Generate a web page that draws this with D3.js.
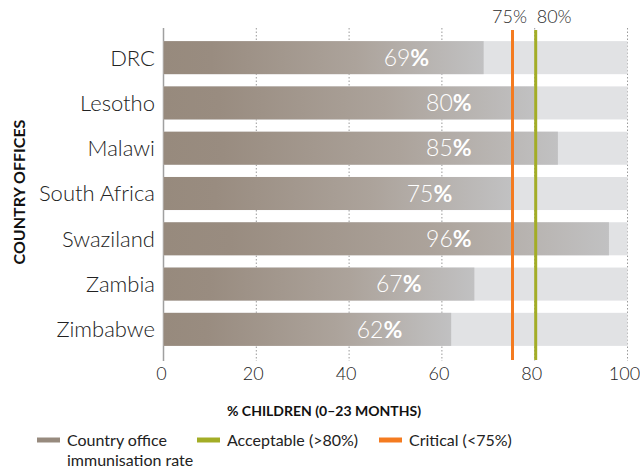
<!DOCTYPE html>
<html>
<head>
<meta charset="utf-8">
<script src="https://cdn.jsdelivr.net/npm/d3@7"></script>
<style>
  html, body { margin: 0; padding: 0; background: #fff; }
  svg { display: block; font-family: Lato, "Open Sans", sans-serif; }
</style>
</head>
<body>
<svg id="chart" width="640" height="468"></svg>
<script>
// Immunisation coverage of children aged 0–23 months, by country office
const countries = ["DRC", "Lesotho", "Malawi", "South Africa", "Swaziland", "Zambia", "Zimbabwe"];
const rates = [69, 80, 85, 75, 96, 67, 62];
const xTicks = [0, 20, 40, 60, 80, 100];
const thresholds = [
  { name: "Critical (<75%)", value: 75, color: "#f47b20" },
  { name: "Acceptable (>80%)", value: 80, color: "#a3ad26" }
];
const legendItems = [
  { lines: ["Country office", "immunisation rate"], color: "#978a7e" },
  { lines: ["Acceptable (>80%)"], color: "#a3ad26" },
  { lines: ["Critical (<75%)"], color: "#f47b20" }
];

const svg = d3.select("#chart");

const x = d3.scaleLinear().domain([0, 100]).range([163.5, 627.5]);
const y = d3.scaleBand().domain(countries).range([35, 352])
  .paddingInner(0.27).paddingOuter(0.135);

// per-bar gradient: warm taupe fading to grey at the bar's end
const defs = svg.append("defs");
const grad = defs.append("linearGradient").attr("id", "barGrad")
  .attr("x1", "0%").attr("x2", "100%").attr("y1", "0%").attr("y2", "0%");
grad.append("stop").attr("offset", "0%").attr("stop-color", "#978a7d");
grad.append("stop").attr("offset", "15%").attr("stop-color", "#998c80");
grad.append("stop").attr("offset", "60%").attr("stop-color", "#aca39b");
grad.append("stop").attr("offset", "100%").attr("stop-color", "#c1c1c2");

// dotted vertical gridlines
svg.append("g").selectAll("line")
  .data(xTicks.filter(d => d > 0))
  .join("line")
  .attr("x1", d => x(d)).attr("x2", d => x(d))
  .attr("y1", 28).attr("y2", 361)
  .attr("stroke", "#9a9a9a").attr("stroke-width", 1)
  .attr("stroke-dasharray", "1.5,2");

// baseline axis line
svg.append("line")
  .attr("x1", x(0)).attr("x2", x(0))
  .attr("y1", 28).attr("y2", 361)
  .attr("stroke", "#a0a0a0").attr("stroke-width", 1.5);

// background tracks (0–100%)
svg.append("g").selectAll("rect")
  .data(countries)
  .join("rect")
  .attr("x", x(0)).attr("y", d => y(d))
  .attr("width", x(100) - x(0)).attr("height", y.bandwidth())
  .attr("fill", "#e1e2e4");

// rate bars
svg.append("g").selectAll("rect")
  .data(countries)
  .join("rect")
  .attr("x", x(0)).attr("y", d => y(d))
  .attr("width", (d, i) => x(rates[i]) - x(0)).attr("height", y.bandwidth())
  .attr("fill", "url(#barGrad)");

// value labels inside the bars
const vl = svg.append("g").selectAll("text")
  .data(countries)
  .join("text")
  .attr("x", (d, i) => x(Math.min(rates[i], 80) * 0.83))
  .attr("y", d => y(d) + y.bandwidth() / 2)
  .attr("dy", "0.36em")
  .attr("text-anchor", "end")
  .attr("fill", "#fff")
  .style("font-size", "23px");
vl.append("tspan").attr("font-weight", 300).text((d, i) => rates[i]);
vl.append("tspan").attr("font-weight", 700).text("%");

// threshold lines
svg.append("g").selectAll("line")
  .data(thresholds)
  .join("line")
  .attr("x1", d => x(d.value) + 1).attr("x2", d => x(d.value) + 1)
  .attr("y1", 30).attr("y2", 360)
  .attr("stroke", d => d.color).attr("stroke-width", 3);

// threshold labels above the plot
svg.append("text")
  .attr("x", x(75) - 2).attr("y", 23)
  .attr("text-anchor", "middle")
  .attr("fill", "#2b2b2b").attr("font-weight", 300)
  .style("font-size", "18px")
  .text("75%");
svg.append("text")
  .attr("x", x(80) + 2).attr("y", 23)
  .attr("text-anchor", "start")
  .attr("fill", "#2b2b2b").attr("font-weight", 300)
  .style("font-size", "18px")
  .text("80%");

// country labels
svg.append("g").selectAll("text")
  .data(countries)
  .join("text")
  .attr("x", 155)
  .attr("y", d => y(d) + y.bandwidth() / 2)
  .attr("dy", "0.36em")
  .attr("text-anchor", "end")
  .attr("fill", "#222").attr("font-weight", 300)
  .style("font-size", "22px")
  .text(d => d);

// x tick labels
svg.append("g").selectAll("text")
  .data(xTicks)
  .join("text")
  .attr("x", d => x(d) - (d === 0 ? 2 : 3))
  .attr("y", 380)
  .attr("text-anchor", "middle")
  .attr("fill", "#222").attr("font-weight", 300)
  .style("font-size", "18px")
  .text(d => d);

// axis titles
svg.append("text")
  .attr("x", 324).attr("y", 416)
  .attr("text-anchor", "middle")
  .attr("fill", "#111").attr("font-weight", 700)
  .style("font-size", "14px")
  .text("% CHILDREN (0–23 MONTHS)");
svg.append("text")
  .attr("transform", "translate(25,192) rotate(-90)")
  .attr("text-anchor", "middle")
  .attr("fill", "#111").attr("font-weight", 700)
  .style("font-size", "16px")
  .text("COUNTRY OFFICES");

// legend
const legendX = [37, 197, 379];
const lg = svg.append("g").selectAll("g")
  .data(legendItems)
  .join("g")
  .attr("transform", (d, i) => `translate(${legendX[i]},440)`);
lg.append("line")
  .attr("x1", 0).attr("x2", 23).attr("y1", 0).attr("y2", 0)
  .attr("stroke", d => d.color).attr("stroke-width", 5);
lg.append("text")
  .attr("x", 30).attr("y", 6)
  .attr("fill", "#222")
  .style("font-size", "16px")
  .selectAll("tspan")
  .data(d => d.lines)
  .join("tspan")
  .attr("x", 30)
  .attr("dy", (d, i) => i === 0 ? 0 : 20)
  .text(d => d);
</script>
</body>
</html>
